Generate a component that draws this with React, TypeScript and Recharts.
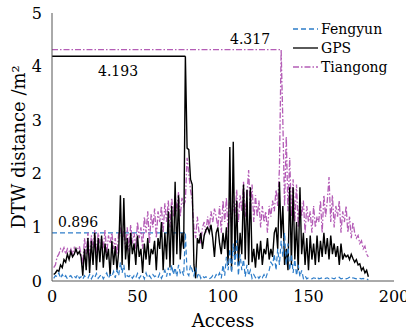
import React from "react";
import { LineChart, Line, XAxis, YAxis, ReferenceLine } from "recharts";

if (typeof document !== "undefined") document.body.style.margin = "0";

const FONT = "'DejaVu Serif', serif";

// DTW distance per access index (1..185)
const fengyun = [
  0.05, 0.1, 0.08, 0.15, 0.05, 0.12, 0.06, 0.1, 0.04, 0.08,
  0.1, 0.05, 0.09, 0.06, 0.12, 0.05, 0.08, 0.03, 0.1, 0.06,
  0.05, 0.12, 0.04, 0.1, 0.06, 0.14, 0.05, 0.09, 0.12, 0.04,
  0.1, 0.15, 0.05, 0.12, 0.08, 0.18, 0.06, 0.2, 0.1, 0.35,
  0.15, 0.3, 0.05, 0.1, 0.08, 0.12, 0.05, 0.1, 0.06, 0.14,
  0.05, 0.1, 0.12, 0.04, 0.15, 0.06, 0.1, 0.05, 0.12, 0.08,
  0.1, 0.06, 0.14, 0.05, 0.12, 0.2, 0.08, 0.25, 0.1, 0.3,
  0.12, 0.25, 0.08, 0.3, 0.15, 0.2, 0.1, 0.896, 0.15, 0.1,
  0.3, 0.2, 0.1, 0.25, 0.08, 0.15, 0.05, 0.1, 0.06, 0.08,
  0.05, 0.04, 0.06, 0.1, 0.05, 0.12, 0.08, 0.15, 0.05, 0.3,
  0.1, 0.45, 0.2, 0.6, 0.15, 0.7, 0.3, 0.76, 0.1, 0.5,
  0.2, 0.4, 0.08, 0.3, 0.1, 0.2, 0.05, 0.12, 0.06, 0.1,
  0.05, 0.1, 0.06, 0.12, 0.05, 0.15, 0.2, 0.35, 0.3, 0.5,
  0.2, 0.6, 0.3, 0.75, 0.45, 0.9, 0.3, 0.7, 0.2, 0.5,
  0.15, 0.4, 0.1, 0.3, 0.08, 0.2, 0.05, 0.1, 0.04, 0.06,
  0.05, 0.04, 0.06, 0.05, 0.08, 0.04, 0.05, 0.06, 0.04, 0.05,
  0.06, 0.04, 0.07, 0.05, 0.04, 0.06, 0.05, 0.07, 0.04, 0.05,
  0.06, 0.04, 0.05, 0.07, 0.04, 0.06, 0.05, 0.04, 0.06, 0.05,
  0.04, 0.05, 0.03, 0.04, 0.02,
];

const gps = [
  0.12, 0.15, 0.2, 0.18, 0.3, 0.25, 0.4, 0.35, 0.5, 0.4,
  0.55, 0.45, 0.5, 0.6, 0.5, 0.55, 0.45, 0.1, 0.6, 0.2,
  0.8, 0.15, 0.75, 0.3, 0.9, 0.2, 0.8, 0.35, 0.85, 0.25,
  0.7, 0.4, 0.6, 0.1, 0.75, 0.3, 0.65, 0.2, 0.55, 1.6,
  0.3, 1.55, 0.4, 0.8, 0.2, 0.9, 0.5, 0.7, 0.3, 0.85,
  0.45, 0.6, 0.15, 0.7, 0.4, 0.8, 0.3, 0.6, 0.5, 0.75,
  0.2, 0.8, 0.6, 1.1, 0.2, 0.9, 0.4, 1.3, 0.25, 1.4,
  0.3, 1.85, 0.5, 1.6, 0.4, 0.9, 0.6, 4.193, 2.48, 2.45,
  1.9, 1.8, 0.3, 0.05, 0.8, 0.7, 0.9, 0.6, 0.85, 0.95,
  1.0, 0.9, 1.05, 0.8, 0.45, 0.9, 1.0, 0.7, 0.5, 0.9,
  0.6, 1.0, 0.3, 2.5, 0.2, 2.6, 0.4, 1.5, 0.3, 0.9,
  0.5, 1.8, 0.4, 1.7, 0.3, 1.75, 0.35, 0.6, 0.25, 0.7,
  0.4, 0.75, 0.3, 0.6, 0.5, 0.8, 0.4, 0.6, 0.45, 0.9,
  1.0, 0.6, 1.85, 0.8, 1.4, 0.3, 0.6, 0.2, 1.75, 0.3,
  1.75, 0.4, 1.1, 0.2, 1.75, 0.5, 0.9, 0.3, 0.8, 0.2,
  0.85, 0.4, 0.7, 0.3, 0.85, 0.35, 0.75, 0.45, 0.9, 0.5,
  0.8, 0.4, 0.85, 0.5, 0.7, 0.45, 0.65, 0.3, 0.7, 0.4,
  0.5, 0.45, 0.48, 0.4, 0.5, 0.42, 0.35, 0.4, 0.3, 0.32,
  0.2, 0.25, 0.15, 0.2, 0.08,
];

const tiangong = [
  0.25, 0.3, 0.45, 0.5, 0.6, 0.55, 0.62, 0.5, 0.6, 0.55,
  0.6, 0.5, 0.62, 0.55, 0.6, 0.65, 0.5, 0.3, 0.8, 0.5,
  0.9, 0.4, 0.85, 0.6, 0.95, 0.5, 0.9, 0.7, 0.8, 0.6,
  0.95, 0.5, 0.85, 0.7, 0.9, 0.6, 0.8, 0.5, 0.9, 1.0,
  0.7, 0.95, 0.6, 1.0, 0.55, 1.05, 0.7, 0.9, 0.6, 1.1,
  0.8, 1.0, 0.6, 1.2, 0.9, 1.3, 0.7, 1.25, 1.0, 1.35,
  0.8, 1.3, 1.1, 1.4, 0.9, 1.45, 1.1, 1.5, 1.0, 1.55,
  1.2, 1.6, 1.3, 1.66, 1.2, 1.55, 1.4, 1.5, 2.3, 2.0,
  1.7, 1.5, 1.0, 0.8, 1.2, 0.9, 0.7, 1.0, 1.1, 0.9,
  1.2, 1.0, 1.3, 1.1, 1.35, 1.2, 1.0, 1.4, 0.9, 1.5,
  1.1, 1.55, 0.9, 1.6, 1.0, 1.5, 1.2, 1.7, 1.1, 1.6,
  1.3, 1.85, 1.2, 1.6, 2.07, 1.3, 1.8, 1.1, 1.6, 1.2,
  1.5, 1.0, 1.4, 1.1, 1.3, 0.9, 1.4, 1.2, 1.5, 1.3,
  1.7, 1.4, 2.1, 4.317, 2.97, 1.4, 2.7, 1.3, 2.3, 1.2,
  1.9, 1.1, 1.8, 1.0, 1.6, 1.2, 1.5, 0.9, 1.4, 1.1,
  1.3, 0.9, 1.4, 1.0, 1.2, 1.1, 1.5, 0.9, 1.6, 1.2,
  1.5, 1.94, 1.1, 1.6, 1.0, 1.4, 1.2, 1.5, 0.9, 1.3,
  1.1, 1.4, 0.9, 1.2, 0.8, 1.1, 0.9, 0.8, 0.85, 0.7,
  0.75, 0.6, 0.65, 0.5, 0.45,
];

const xTicks = [0, 50, 100, 150, 200];
const yTicks = [0, 1, 2, 3, 4, 5];

// max markers: access index at max, value, label
const maxFengyun = { x: 78, y: 0.896, label: "0.896" };
const maxGps = { x: 78, y: 4.193, label: "4.193" };
const maxTiangong = { x: 134, y: 4.317, label: "4.317" };

const BLUE = "#2e7dc9";
const PURPLE = "#b45db6";
const BLACK = "#000000";

const data = gps.map((g, i) => ({
  x: i + 1,
  fengyun: fengyun[i],
  gps: g,
  tiangong: tiangong[i],
}));

const series = [
  { key: "fengyun", name: "Fengyun", color: BLUE, dash: "5 3" },
  { key: "gps", name: "GPS", color: BLACK, dash: undefined },
  { key: "tiangong", name: "Tiangong", color: PURPLE, dash: "6 2 1.5 2" },
];

function maxLabel(text: string, dx: number, dy: number) {
  return (props: any) => {
    const vb = props.viewBox || {};
    const x = vb.x ?? 0;
    const y = vb.y ?? 0;
    return (
      <text x={x + dx} y={y + dy} fontFamily={FONT} fontSize={14} fill="#000">
        {text}
      </text>
    );
  };
}

function LegendBox() {
  return (
    <svg width={100} height={60} style={{ position: "absolute", left: 291, top: 19 }}>
      {series.map((s, i) => (
        <g key={s.key}>
          <line
            x1={2}
            x2={27}
            y1={10 + i * 19}
            y2={10 + i * 19}
            stroke={s.color}
            strokeWidth={1.3}
            strokeDasharray={s.dash}
          />
          <text x={30} y={15 + i * 19} fontFamily={FONT} fontSize={14} fill="#000">
            {s.name}
          </text>
        </g>
      ))}
    </svg>
  );
}

const yLabel = () => (
  <text
    x={18}
    y={147}
    transform="rotate(-90 18 147)"
    textAnchor="middle"
    dominantBaseline="central"
    fontFamily={FONT}
    fontSize={18}
    fill="#000"
  >
    DTW distance /m²
  </text>
);

export default function App() {
  return (
    <div style={{ position: "relative", width: 406, height: 333, background: "#fff" }}>
      <LineChart
        width={406}
        height={333}
        data={data}
        margin={{ top: 13, right: 12, bottom: 0, left: 0 }}
      >
        <XAxis
          dataKey="x"
          type="number"
          domain={[0, 200]}
          ticks={xTicks}
          tickLine={false}
          axisLine={{ stroke: "#555" }}
          height={52}
          tick={{ fontFamily: FONT, fontSize: 16, fill: "#000" }}
          tickMargin={4}
          label={{
            value: "Access",
            position: "insideBottom",
            offset: 6,
            style: { fontFamily: FONT, fontSize: 18, fill: "#000" },
          }}
        />
        <XAxis
          xAxisId="top"
          orientation="top"
          dataKey="x"
          type="number"
          domain={[0, 200]}
          tick={false}
          tickLine={false}
          height={0}
          axisLine={{ stroke: "#555" }}
        />
        <YAxis
          type="number"
          domain={[0, 5]}
          ticks={yTicks}
          tickLine={false}
          axisLine={{ stroke: "#555" }}
          width={52}
          tick={{ fontFamily: FONT, fontSize: 16, fill: "#000" }}
          tickMargin={4}
          label={yLabel}
        />
        <YAxis
          yAxisId="right"
          orientation="right"
          domain={[0, 5]}
          tick={false}
          tickLine={false}
          width={0}
          axisLine={{ stroke: "#555" }}
        />
        <ReferenceLine
          segment={[{ x: 0, y: maxFengyun.y }, { x: maxFengyun.x, y: maxFengyun.y }]}
          stroke={BLUE}
          strokeWidth={1.2}
          strokeDasharray="5 3"
          label={maxLabel(maxFengyun.label, 6, -6)}
        />
        <ReferenceLine
          segment={[{ x: 0, y: maxGps.y }, { x: maxGps.x, y: maxGps.y }]}
          stroke={BLACK}
          strokeWidth={1.3}
          label={maxLabel(maxGps.label, 46, 20)}
        />
        <ReferenceLine
          segment={[{ x: 0, y: maxTiangong.y }, { x: maxTiangong.x, y: maxTiangong.y }]}
          stroke={PURPLE}
          strokeWidth={1.2}
          strokeDasharray="6 2 1.5 2"
          label={maxLabel(maxTiangong.label, 178, -6)}
        />
        <Line
          dataKey="tiangong"
          name="Tiangong"
          stroke={PURPLE}
          strokeWidth={1.3}
          strokeDasharray="6 2 1.5 2"
          dot={false}
          isAnimationActive={false}
        />
        <Line
          dataKey="gps"
          name="GPS"
          stroke={BLACK}
          strokeWidth={1.4}
          dot={false}
          isAnimationActive={false}
        />
        <Line
          dataKey="fengyun"
          name="Fengyun"
          stroke={BLUE}
          strokeWidth={1.2}
          strokeDasharray="5 3"
          dot={false}
          isAnimationActive={false}
        />
      </LineChart>
      <LegendBox />
    </div>
  );
}
